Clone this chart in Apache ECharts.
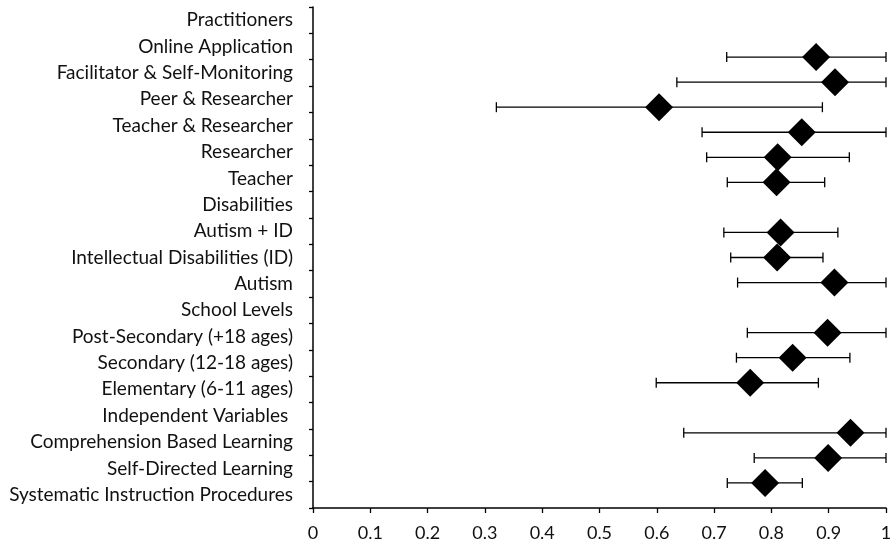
<!DOCTYPE html>
<html>
<head>
<meta charset="utf-8">
<script src="https://cdn.jsdelivr.net/npm/echarts@6/dist/echarts.min.js"></script>
<style>
  html, body { margin: 0; padding: 0; background: #fff; }
  #main { width: 895px; height: 548px; }
</style>
</head>
<body>
<div id="main"></div>
<script>
// rows listed top to bottom, as in the picture
const categories = [
  'Practitioners',
  'Online Application',
  'Facilitator & Self-Monitoring',
  'Peer & Researcher',
  'Teacher & Researcher',
  'Researcher',
  'Teacher',
  'Disabilities',
  'Autism + ID',
  'Intellectual Disabilities (ID)',
  'Autism',
  'School Levels',
  'Post-Secondary (+18 ages)',
  'Secondary (12-18 ages)',
  'Elementary (6-11 ages)',
  'Independent Variables ',
  'Comprehension Based Learning',
  'Self-Directed Learning',
  'Systematic Instruction Procedures'
]
const means = [null, 0.878, 0.911, 0.604, 0.853, 0.811, 0.809, null, 0.816, 0.810, 0.910,
  null, 0.898, 0.837, 0.763, null, 0.938, 0.899, 0.789]
const lower = [null, 0.722, 0.635, 0.320, 0.679, 0.687, 0.723, null, 0.717, 0.729, 0.741,
  null, 0.758, 0.739, 0.599, null, 0.647, 0.770, 0.723]
const upper = [null, 1, 1, 0.889, 1, 0.936, 0.893, null, 0.916, 0.890, 1,
  null, 1, 0.937, 0.882, null, 1, 1, 0.854]

const n = categories.length
// markers sit on a hidden 0..20 axis at 1..19 (like the excel overlay)
const rowY = categories.map((c, i) => n - i)

const pointData = []
const barData = []
categories.forEach((c, i) => {
  if (means[i] == null) return
  pointData.push([means[i], rowY[i]])
  barData.push([lower[i], upper[i], rowY[i]])
})

const font = 'Lato'
const chart = echarts.init(document.getElementById('main'))
chart.setOption({
  animation: false,
  backgroundColor: '#fff',
  grid: { left: 313, right: 9, top: 7, bottom: 40, containLabel: false },
  xAxis: {
    type: 'value', min: 0, max: 1, interval: 0.1,
    axisLine: { lineStyle: { color: '#000', width: 1.5 } },
    axisTick: { show: true, length: 5, lineStyle: { color: '#000', width: 1.3 } },
    axisLabel: { color: '#111', fontFamily: font, fontSize: 18, margin: 16 },
    splitLine: { show: false }
  },
  yAxis: [{
    type: 'category',
    data: categories.slice().reverse(),
    boundaryGap: true,
    axisLine: { lineStyle: { color: '#000', width: 1.5 } },
    axisTick: { show: true, length: 4, lineStyle: { color: '#000', width: 1.3 } },
    axisLabel: { color: '#111', fontFamily: font, fontSize: 19, margin: 20, interval: 0 },
    splitLine: { show: false }
  }, {
    type: 'value', min: 0, max: 20, show: false,
    splitLine: { show: false }
  }],
  series: [{
    type: 'custom',
    yAxisIndex: 1,
    data: barData,
    z: 2,
    renderItem: function (params, api) {
      const a = api.coord([api.value(0), api.value(2)])
      const b = api.coord([api.value(1), api.value(2)])
      const h = 5
      const st = { stroke: '#000', lineWidth: 1.3 }
      return {
        type: 'group',
        children: [
          { type: 'line', shape: { x1: a[0], y1: a[1], x2: b[0], y2: b[1] }, style: st },
          { type: 'line', shape: { x1: a[0], y1: a[1] - h, x2: a[0], y2: a[1] + h }, style: st },
          { type: 'line', shape: { x1: b[0], y1: b[1] - h, x2: b[0], y2: b[1] + h }, style: st }
        ]
      }
    }
  }, {
    type: 'scatter',
    yAxisIndex: 1,
    data: pointData,
    symbol: 'diamond',
    symbolSize: 28,
    itemStyle: { color: '#000', opacity: 1 },
    z: 3
  }]
})
</script>
</body>
</html>
